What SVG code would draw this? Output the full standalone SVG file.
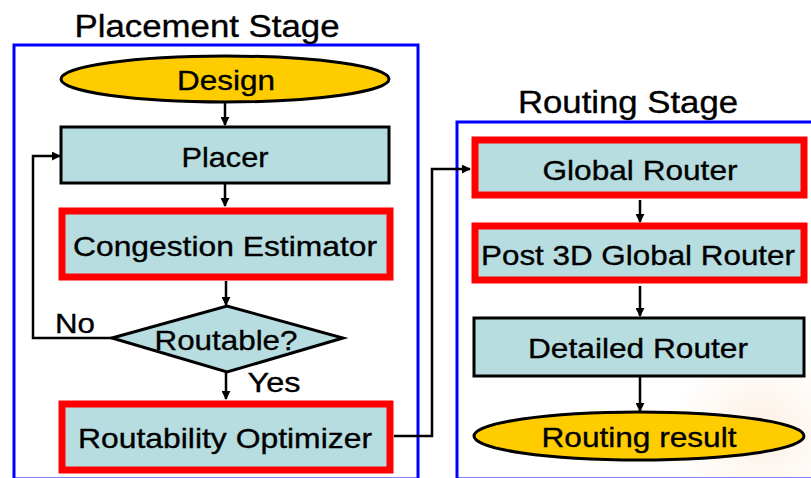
<svg xmlns="http://www.w3.org/2000/svg" width="811" height="478" viewBox="0 0 811 478">
  <defs>
    <marker id="arrow" viewBox="0 0 10 10" refX="9" refY="5" markerWidth="3.6" markerHeight="3.6" orient="auto" markerUnits="strokeWidth">
      <path d="M0,0 L10,5 L0,10 z" fill="#000"/>
    </marker>
    <radialGradient id="haze" cx="0.5" cy="0.5" r="0.5">
      <stop offset="0" stop-color="#f3c9a0" stop-opacity="0.28"/>
      <stop offset="1" stop-color="#f3c9a0" stop-opacity="0"/>
    </radialGradient>
  </defs>
  <style>
    text { font-family: "Liberation Sans", Arial, sans-serif; fill: #000; stroke: #000; stroke-width: 0.35; text-anchor: middle; }
    .stage { fill: none; stroke: #0000ff; stroke-width: 3; }
    .title { font-size: 31px; }
    .label { font-size: 28px; }
    .box { fill: #b7dde1; stroke: #000; stroke-width: 3; }
    .hot { fill: #b7dde1; stroke: #ff0000; stroke-width: 7; }
    .term { fill: #ffcc00; stroke: #000; stroke-width: 3; }
    .wire { fill: none; stroke: #000; stroke-width: 2.5; marker-end: url(#arrow); }
  </style>

  <rect width="811" height="478" fill="#fff" stroke="none"/>
  <ellipse cx="760" cy="430" rx="90" ry="80" fill="url(#haze)"/>

  <!-- stage frames -->
  <g id="placement-stage">
    <rect class="stage" x="14" y="45" width="404" height="434"/>
    <text class="title" x="207" y="37" textLength="265" lengthAdjust="spacingAndGlyphs">Placement Stage</text>
  </g>
  <g id="routing-stage">
    <rect class="stage" x="457" y="122" width="360" height="357"/>
    <text class="title" x="628" y="113" textLength="220" lengthAdjust="spacingAndGlyphs">Routing Stage</text>
  </g>

  <!-- connectors -->
  <g id="connectors">
    <path class="wire" d="M225,102 V125"/>
    <path class="wire" d="M225,184 V206"/>
    <path class="wire" d="M226,281 V305"/>
    <path class="wire" d="M226,372 V399"/>
    <path class="wire" d="M112,338 H33 V156 H60"/>
    <path class="wire" d="M394,436 H432 V169 H470"/>
    <path class="wire" d="M640,200 V222"/>
    <path class="wire" d="M640,286 V316"/>
    <path class="wire" d="M640,377 V411"/>
    <text class="label" x="75" y="333" textLength="40" lengthAdjust="spacingAndGlyphs">No</text>
    <text class="label" x="274" y="392" textLength="53" lengthAdjust="spacingAndGlyphs">Yes</text>
  </g>

  <!-- placement nodes -->
  <g id="design">
    <ellipse class="term" cx="225" cy="79" rx="164" ry="23"/>
    <text class="label" x="226" y="90" textLength="98" lengthAdjust="spacingAndGlyphs">Design</text>
  </g>
  <g id="placer">
    <rect class="box" x="61" y="127" width="328" height="56"/>
    <text class="label" x="225" y="167" textLength="87" lengthAdjust="spacingAndGlyphs">Placer</text>
  </g>
  <g id="congestion-estimator">
    <rect class="hot" x="62" y="211" width="328" height="66"/>
    <text class="label" x="225" y="256" textLength="304" lengthAdjust="spacingAndGlyphs">Congestion Estimator</text>
  </g>
  <g id="routable">
    <polygon class="box" points="112,338 227,306 343,338 227,372"/>
    <text class="label" x="226" y="350" textLength="143" lengthAdjust="spacingAndGlyphs">Routable?</text>
  </g>
  <g id="routability-optimizer">
    <rect class="hot" x="62" y="404" width="328" height="66"/>
    <text class="label" x="225" y="448" textLength="294" lengthAdjust="spacingAndGlyphs">Routability Optimizer</text>
  </g>

  <!-- routing nodes -->
  <g id="global-router">
    <rect class="hot" x="475" y="140" width="329" height="55"/>
    <text class="label" x="640" y="180" textLength="195" lengthAdjust="spacingAndGlyphs">Global Router</text>
  </g>
  <g id="post-3d-global-router">
    <rect class="hot" x="475" y="226" width="329" height="54"/>
    <text class="label" x="638" y="265" textLength="314" lengthAdjust="spacingAndGlyphs">Post 3D Global Router</text>
  </g>
  <g id="detailed-router">
    <rect class="box" x="474" y="318" width="330" height="58"/>
    <text class="label" x="638" y="358" textLength="220" lengthAdjust="spacingAndGlyphs">Detailed Router</text>
  </g>
  <g id="routing-result">
    <ellipse class="term" cx="639" cy="436" rx="165" ry="24"/>
    <text class="label" x="639" y="447" textLength="195" lengthAdjust="spacingAndGlyphs">Routing result</text>
  </g>
</svg>
